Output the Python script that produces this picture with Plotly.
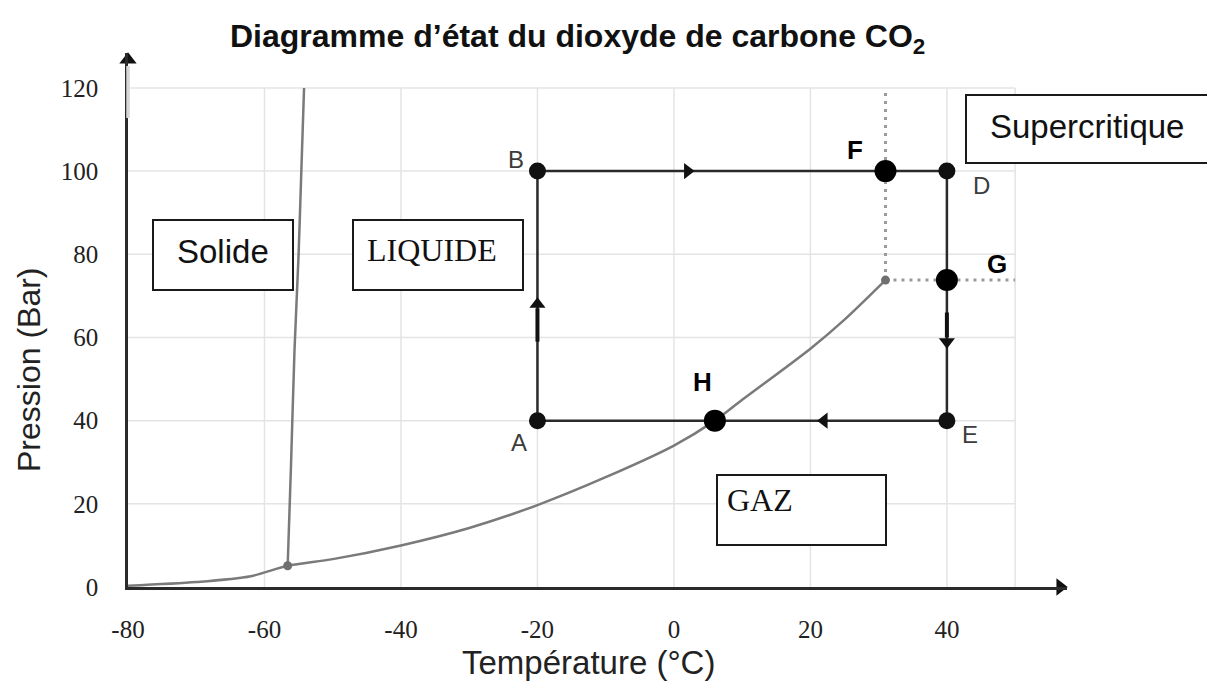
import plotly.graph_objects as go

# ---------------- data ----------------
tick_T = [-80, -60, -40, -20, 0, 20, 40]
tick_P = [0, 20, 40, 60, 80, 100, 120]

# sublimation + vaporisation curve (triple point -> critical point)
curve_T = [-80, -70, -62, -56.6, -50, -40, -30, -20, -10, 0, 6, 10, 20, 25, 31]
curve_P = [0.3, 1.2, 2.6, 5.1, 6.7, 10.0, 14.2, 19.7, 26.4, 34.0, 40.0, 45.0, 57.3, 64.3, 73.8]

# fusion curve
melt_T = [-56.6, -56.1, -55.6, -55.0, -54.6, -54.2]
melt_P = [5.1, 30, 57, 80, 100, 120]

triple_T, triple_P = -56.6, 5.1
crit_T, crit_P = 31, 73.8

cycle_names = ["A", "B", "D", "E"]
cycle_T = [-20, -20, 40, 40]
cycle_P = [40, 100, 100, 40]

special_names = ["F", "G", "H"]
special_T = [31, 40, 6]
special_P = [100, 73.8, 40]

arrow_T = [2, 40, 22, -20]
arrow_P = [100, 59, 40, 68]
arrow_dirs = ["triangle-right", "triangle-down", "triangle-left", "triangle-up"]

# thicker arrow stems on the vertical branches
stem_up_T, stem_up_P = [-20, -20], [59, 67]
stem_down_T, stem_down_P = [40, 40], [66, 60]

grid_end_T = 50
grid_end_P = 120

title_text = "Diagramme d\u2019\u00e9tat du dioxyde de carbone CO<sub>2</sub>"
xtitle = "Temp\u00e9rature (\u00b0C)"
ytitle = "Pression (Bar)"
region_labels = ["Solide", "LIQUIDE", "GAZ", "Supercritique"]

# ---------------- layout helpers ----------------
# page offset of the html body (8 px) is compensated in the figure size / margins
W, H = 1207, 680
L, R, TOP, BOT = 128, 1067, 53, 587      # plot area in page pixels
OFF = 8
XR = [-80, 57.6]
YR = [0, 128.4]


def pxx(x):
    return (x - L) / (R - L)


def pxy(y):
    return (BOT - y) / (BOT - TOP)


SANS = "Liberation Sans, Arial, sans-serif"
SERIF = "Liberation Serif, Times New Roman, serif"
DARK = "#2a2a2a"
CURVE = "#7a7a7a"

fig = go.Figure()

# phase curves
fig.add_trace(go.Scatter(x=curve_T, y=curve_P, mode="lines",
                         line=dict(color=CURVE, width=2.5, shape="spline", smoothing=0.8),
                         hoverinfo="skip", showlegend=False))
fig.add_trace(go.Scatter(x=melt_T, y=melt_P, mode="lines",
                         line=dict(color=CURVE, width=2.5, shape="spline", smoothing=0.6),
                         hoverinfo="skip", showlegend=False))

# dotted critical lines
fig.add_trace(go.Scatter(x=[crit_T, crit_T], y=[crit_P, grid_end_P], mode="lines",
                         line=dict(color="#9a9a9a", width=3, dash="3px,5px"),
                         hoverinfo="skip", showlegend=False))
fig.add_trace(go.Scatter(x=[crit_T, grid_end_T], y=[crit_P, crit_P], mode="lines",
                         line=dict(color="#9a9a9a", width=3, dash="3px,5px"),
                         hoverinfo="skip", showlegend=False))

# triple & critical points
fig.add_trace(go.Scatter(x=[triple_T, crit_T], y=[triple_P, crit_P], mode="markers",
                         marker=dict(color="#6f6f6f", size=9),
                         hoverinfo="skip", showlegend=False))

# cycle A-B-D-E-A
fig.add_trace(go.Scatter(x=cycle_T + [cycle_T[0]], y=cycle_P + [cycle_P[0]], mode="lines",
                         line=dict(color=DARK, width=2.5),
                         hoverinfo="skip", showlegend=False))

# arrow stems + heads on cycle
for st, sp in ((stem_up_T, stem_up_P), (stem_down_T, stem_down_P)):
    fig.add_trace(go.Scatter(x=st, y=sp, mode="lines", line=dict(color="#111", width=4),
                             hoverinfo="skip", showlegend=False))
fig.add_trace(go.Scatter(x=arrow_T, y=arrow_P, mode="markers",
                         marker=dict(symbol=arrow_dirs, size=14, color="#111"),
                         hoverinfo="skip", showlegend=False))

# points
fig.add_trace(go.Scatter(x=cycle_T, y=cycle_P, mode="markers",
                         marker=dict(color="#111", size=17),
                         hoverinfo="skip", showlegend=False))
fig.add_trace(go.Scatter(x=special_T, y=special_P, mode="markers",
                         marker=dict(color="#000", size=22),
                         hoverinfo="skip", showlegend=False))

# axis arrowheads
fig.add_trace(go.Scatter(x=[XR[1] - 1.0, XR[0]], y=[0, YR[1] - 1.6], mode="markers",
                         marker=dict(symbol=["triangle-right", "triangle-up"], size=15, color="#111"),
                         cliponaxis=False, hoverinfo="skip", showlegend=False))

shapes = []
# grid
for t in tick_T[1:] + [grid_end_T]:
    shapes.append(dict(type="line", xref="x", yref="y", x0=t, x1=t, y0=0, y1=grid_end_P,
                       line=dict(color="#e4e4e4", width=1.5), layer="below"))
for p in tick_P[1:]:
    shapes.append(dict(type="line", xref="x", yref="y", x0=XR[0], x1=grid_end_T, y0=p, y1=p,
                       line=dict(color="#e4e4e4", width=1.5), layer="below"))

# faded section of y axis (scan artefact)
shapes.append(dict(type="line", xref="paper", yref="paper", x0=0, x1=0,
                   y0=pxy(118), y1=pxy(66), line=dict(color="#d6d6d6", width=3.5)))

# region boxes (page-pixel geometry)
boxes = [
    (153, 220, 293, 290, 175, 251, SANS, 33),
    (353, 220, 523, 290, 365, 250, SERIF, 32),
    (717, 475, 886, 545, 725, 500, SERIF, 32),
    (966, 95, 1214, 163, 988, 126, SANS, 33),
]
annotations = []
for (x0, y0, x1, y1, tx, ty, fam, fs), lab in zip(boxes, region_labels):
    shapes.append(dict(type="rect", xref="paper", yref="paper",
                       x0=pxx(x0), x1=pxx(x1), y0=pxy(y1), y1=pxy(y0),
                       line=dict(color="#1a1a1a", width=2), fillcolor="white"))
    annotations.append(dict(xref="paper", yref="paper", x=pxx(tx), y=pxy(ty),
                            xanchor="left", yanchor="middle", text=lab, showarrow=False,
                            font=dict(family=fam, size=fs, color="#111")))

# point labels (offsets in pixels)
cycle_offsets = {"A": (-18, -22), "B": (-21, 12), "D": (35, -14), "E": (23, -14)}
for n, t, p in zip(cycle_names, cycle_T, cycle_P):
    dx, dy = cycle_offsets[n]
    annotations.append(dict(x=t, y=p, xref="x", yref="y", text=n, showarrow=False,
                            xshift=dx, yshift=dy,
                            font=dict(family=SANS, size=24, color="#3c3c3c")))
special_offsets = {"F": (-30, 21), "G": (50, 16), "H": (-12, 39)}
for n, t, p in zip(special_names, special_T, special_P):
    dx, dy = special_offsets[n]
    annotations.append(dict(x=t, y=p, xref="x", yref="y", text="<b>%s</b>" % n, showarrow=False,
                            xshift=dx, yshift=dy,
                            font=dict(family=SANS, size=26, color="#000")))

# titles
annotations.append(dict(xref="paper", yref="paper", x=pxx(577), y=pxy(38), xanchor="center",
                        yanchor="middle", text="<b>%s</b>" % title_text, showarrow=False,
                        font=dict(family=SANS, size=32, color="#111")))
annotations.append(dict(xref="paper", yref="paper", x=pxx(588), y=pxy(662), xanchor="center",
                        yanchor="middle", text=xtitle, showarrow=False,
                        font=dict(family=SANS, size=33, color="#222")))
annotations.append(dict(xref="paper", yref="paper", x=pxx(29), y=pxy(370), xanchor="center",
                        yanchor="middle", text=ytitle, showarrow=False, textangle=-90,
                        font=dict(family=SANS, size=32, color="#222")))

fig.update_layout(
    width=W, height=H,
    margin=dict(l=L - OFF, r=W - (R - OFF), t=TOP - OFF, b=H - (BOT - OFF)),
    paper_bgcolor="white", plot_bgcolor="white",
    shapes=shapes, annotations=annotations,
    showlegend=False,
    xaxis=dict(range=XR, tickvals=tick_T, ticktext=[str(v) for v in tick_T],
               showgrid=False, zeroline=False, showline=True, linecolor="#2a2a2a", linewidth=2.5,
               ticks="", ticklabelstandoff=18,
               tickfont=dict(family=SERIF, size=25, color="#222")),
    yaxis=dict(range=YR, tickvals=tick_P, ticktext=[str(v) for v in tick_P],
               showgrid=False, zeroline=False, showline=True, linecolor="#2a2a2a", linewidth=2.5,
               ticks="", ticklabelstandoff=22,
               tickfont=dict(family=SERIF, size=25, color="#222")),
)

fig.write_html("out.html")
